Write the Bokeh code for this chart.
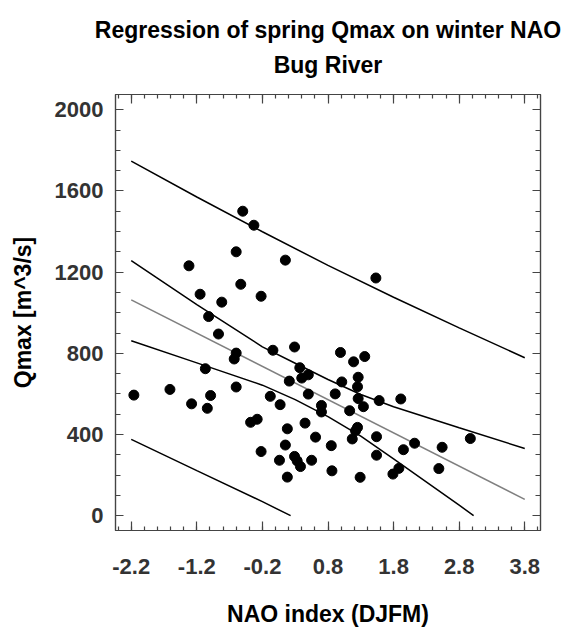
from bokeh.plotting import figure
from bokeh.models import LinearAxis, Range1d, FixedTicker, Title, CustomLabelingPolicy
from bokeh.embed import file_html
from bokeh.resources import INLINE

# Winter (DJFM) NAO index and spring peak discharge of the Bug River, one pair per year
nao_index = [-0.50, -0.33, -0.60, -1.32, 0.15, -0.53, 1.53, -1.15, -0.82, -0.22,
             -1.02, -0.87, -0.60, -0.63, -1.07, -1.61, -2.16, -0.99, -0.60, -1.28,
             -1.04, -0.04, 0.29, 0.37, 0.40, 0.50, 0.21, 0.50, -0.08, 0.07,
             -0.38, -0.28, 0.45, 0.18, 0.61, 0.15, -0.22, 0.06, 0.29, 0.33,
             0.55, 0.38, 0.18, 0.99, 1.19, 1.36, 1.26, 1.01, 1.25, 0.91,
             1.26, 1.58, 1.91, 0.70, 0.70, 1.13, 1.34, 1.25, 1.22, 1.17,
             1.54, 2.12, 2.97, 0.85, 1.95, 2.54, 1.54, 1.88, 1.79, 2.49,
             1.29, 0.86]
q_max = [1500, 1431, 1300, 1231, 1259, 1140, 1171, 1091, 1052, 1081,
         981, 895, 801, 772, 724, 622, 594, 592, 634, 551,
         529, 815, 831, 729, 678, 694, 663, 599, 588, 547,
         460, 475, 456, 428, 387, 348, 316, 273, 292, 270,
         273, 242, 190, 804, 758, 784, 682, 659, 635, 600,
         577, 567, 575, 543, 511, 517, 537, 435, 418, 378,
         389, 357, 380, 345, 325, 337, 298, 233, 205, 232,
         189, 221]

# Least-squares line
fit_x = [-2.2, 3.8]
fit_q = [1063, 80]

# Confidence band of the fitted line
conf_hi_x = [-2.2, -1.2, -0.2, 0.3, 0.8, 1.3, 1.8, 2.8, 3.8]
conf_hi_q = [1256, 1040, 832, 751, 671, 597, 537, 433, 331]
conf_lo_x = [-2.2, -1.2, -0.2, 0.3, 0.8, 1.3, 1.8, 2.8, 3.02]
conf_lo_q = [862, 753, 643, 572, 488, 392, 280, 52, 0]

# Prediction band for single years
pred_hi_x = [-2.2, -1.2, -0.2, 0.8, 1.8, 2.8, 3.8]
pred_hi_q = [1747, 1570, 1399, 1233, 1076, 925, 778]
pred_lo_x = [-2.2, -1.2, -0.2, 0.23]
pred_lo_q = [376, 222, 69, 0]

# Axis ticks and their labels
x_major = [-2.2, -1.2, -0.2, 0.8, 1.8, 2.8, 3.8]
x_labels = ["-2.2", "-1.2", "-0.2", "0.8", "1.8", "2.8", "3.8"]
x_minor = [round(-2.4 + 0.2 * i, 1) for i in range(33)]
y_major = [0, 400, 800, 1200, 1600, 2000]
y_labels = ["0", "400", "800", "1200", "1600", "2000"]
y_minor = [100 * i for i in range(21)]

FONT = "Liberation Sans"
FRAME = "#444444"

p = figure(width=567, height=630,
           x_range=Range1d(-2.44, 4.04), y_range=Range1d(-73, 2075),
           output_backend="svg", toolbar_location=None,
           min_border_left=115, min_border_right=23,
           min_border_top=94, min_border_bottom=100,
           x_axis_label="NAO index (DJFM)", y_axis_label="Qmax [m^3/s]")
p.grid.visible = False
p.outline_line_color = FRAME
p.outline_line_width = 1.2
p.background_fill_color = "white"
p.border_fill_color = "white"

# mirror axes carry ticks only
no_labels = CustomLabelingPolicy(code="""
for (const i of indices) indices.unset(i)
return indices
""")


def style_axis(ax, ticks, minor, major_len, minor_len, labels=None):
    ax.ticker = FixedTicker(ticks=ticks, minor_ticks=minor)
    ax.axis_line_color = FRAME
    ax.axis_line_width = 1.2
    ax.major_tick_line_color = FRAME
    ax.minor_tick_line_color = FRAME
    ax.major_tick_line_width = 1.2
    ax.minor_tick_line_width = 1.2
    ax.major_tick_in = major_len
    ax.major_tick_out = 0
    ax.minor_tick_in = minor_len
    ax.minor_tick_out = 0
    if labels is not None:
        ax.major_label_overrides = dict(zip(ticks, labels))
        ax.major_label_text_font = FONT
        ax.major_label_text_font_style = "bold"
        ax.major_label_text_font_size = "22px"
        ax.major_label_text_color = "#333333"
        ax.axis_label_text_font = FONT
        ax.axis_label_text_font_style = "bold"
        ax.axis_label_text_font_size = "23px"
        ax.axis_label_text_color = "black"
    else:
        ax.major_label_policy = no_labels
        ax.major_label_standoff = 0


style_axis(p.xaxis[0], x_major, x_minor, 9, 4, x_labels)
style_axis(p.yaxis[0], y_major, y_minor, 8, 5, y_labels)
p.xaxis[0].major_label_standoff = 28
p.xaxis[0].axis_label_standoff = 24
p.yaxis[0].major_label_standoff = 12
p.yaxis[0].axis_label_standoff = 16

top_axis = LinearAxis()
style_axis(top_axis, x_major, x_minor, 9, 4)
p.add_layout(top_axis, "above")
right_axis = LinearAxis()
style_axis(right_axis, y_major, y_minor, 8, 5)
p.add_layout(right_axis, "right")

p.add_layout(Title(text="Bug River", align="center", text_font=FONT,
                   text_font_style="bold", text_font_size="23px",
                   text_color="black", standoff=11), "above")
p.add_layout(Title(text="Regression of spring Qmax on winter NAO", align="center",
                   text_font=FONT, text_font_style="bold", text_font_size="23px",
                   text_color="black", standoff=4), "above")

# bands and fitted line
p.line(pred_hi_x, pred_hi_q, line_color="black", line_width=1.5)
p.line(pred_lo_x, pred_lo_q, line_color="black", line_width=1.5)
p.line(conf_hi_x, conf_hi_q, line_color="black", line_width=1.5)
p.line(conf_lo_x, conf_lo_q, line_color="black", line_width=1.5)
p.line(fit_x, fit_q, line_color="#7f7f7f", line_width=1.5)

# yearly observations
p.scatter(nao_index, q_max, marker="circle", size=10,
          fill_color="black", line_color="black")

open("out.html", "w").write(file_html(p, INLINE))
